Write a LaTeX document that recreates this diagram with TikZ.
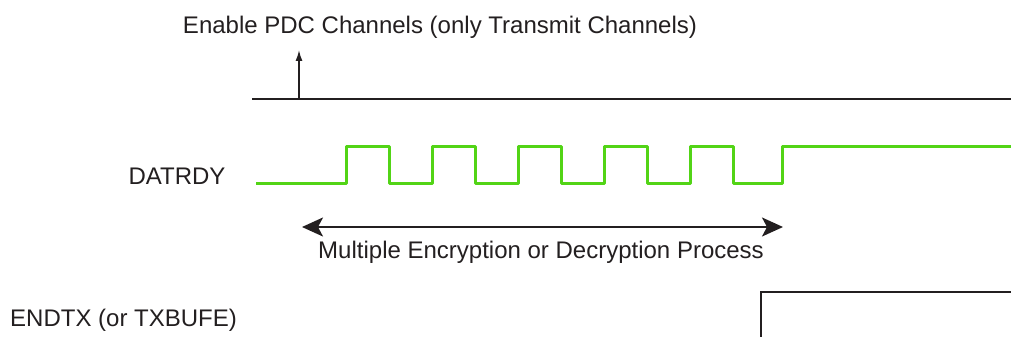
\documentclass[tikz,border=0pt]{standalone}
\usepackage{fontspec}
\setmainfont{Liberation Sans}
\usetikzlibrary{arrows.meta}
\definecolor{sigline}{RGB}{35,31,32}
\definecolor{datgreen}{RGB}{82,212,22}

\begin{document}
\begin{tikzpicture}[x=1pt,y=-1pt,font=\fontsize{24}{28}\selectfont,
    siglbl/.style={inner sep=0pt,text=sigline}]
  \useasboundingbox (0,0) rectangle (1011,337);
  % enable of the PDC channels
  \coordinate (enstart) at (252,99);
  \coordinate (enend) at (1011,99);
  \coordinate (enbase) at (299,99);
  \coordinate (entip) at (299,50);
  \draw[sigline,line width=2.6pt] (enstart) -- (enend);
  \draw[sigline,line width=1.5pt,-{Latex[length=11pt,width=7pt]}] (enbase) -- (entip);
  \node[siglbl] (enlbl) at (440,27) {Enable PDC Channels (only Transmit Channels)};
  % DATRDY waveform
  \node[siglbl] (datlbl) at (177,176) {DATRDY};
  \draw[datgreen,line width=3pt,line join=round] (256,183)
    \foreach \r in {346,432,518,604,690} {-- (\r,183) -- (\r,146) -- (\r+43,146) -- (\r+43,183)}
    -- (782,183) -- (782,146) -- (1011,146);
  % span of the processing
  \coordinate (procl) at (302,227);
  \coordinate (procr) at (783,227);
  \draw[sigline,line width=2pt,{Stealth[length=21pt,width=19pt,inset=5pt]}-{Stealth[length=21pt,width=19pt,inset=5pt]}] (procl) -- (procr);
  \node[siglbl] (proclbl) at (541,252) {Multiple Encryption or Decryption Process};
  % ENDTX flag
  \node[siglbl,anchor=west] (endlbl) at (10,320) {ENDTX (or TXBUFE)};
  \draw[sigline,line width=2.6pt] (761,337) -- (761,292) -- (1011,292);
\end{tikzpicture}
\end{document}
